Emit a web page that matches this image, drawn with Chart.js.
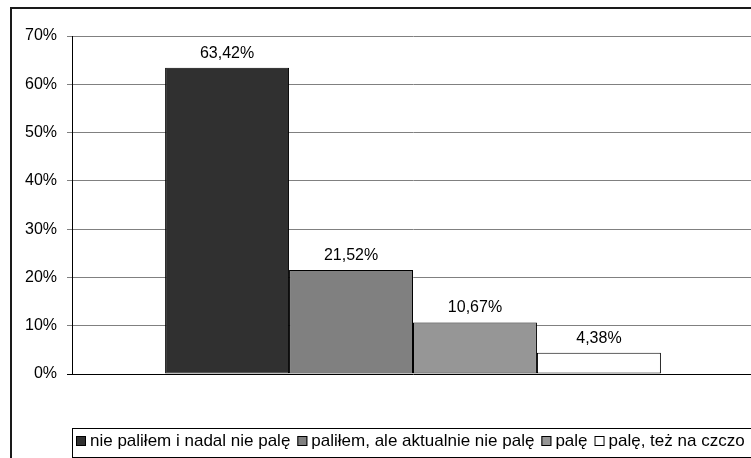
<!DOCTYPE html>
<html lang="pl">
<head>
<meta charset="utf-8">
<title>Palenie tytoniu</title>
<script src="https://cdn.jsdelivr.net/npm/chart.js@4/dist/chart.umd.min.js"></script>
<style>
  html, body { margin: 0; padding: 0; background: #fff; overflow: hidden; width: 751px; height: 458px; }
  canvas { display: block; }
</style>
</head>
<body>
<canvas id="c" width="770" height="470"></canvas>
<script>
// Single category, four answer groups drawn as adjacent bars
const categories = [''];
const seriesLabels = [
  'nie paliłem i nadal nie palę',
  'paliłem, ale aktualnie nie palę',
  'palę',
  'palę, też na czczo'
];
const seriesValues = [63.42, 21.52, 10.67, 4.38];
const seriesColors = ['#303030', '#808080', '#969696', '#ffffff'];
const yTickValues = [0, 10, 20, 30, 40, 50, 60, 70];

const FONT = '"Liberation Sans", Arial, sans-serif';

const fmtPct = v => v.toFixed(2).replace('.', ',') + '%';

// Outer frame of the chart object
const framePlugin = {
  id: 'frame',
  afterDraw(chart) {
    const ctx = chart.ctx;
    ctx.save();
    ctx.strokeStyle = '#1a1a1a';
    ctx.lineWidth = 2;
    ctx.strokeRect(11, 8, 900, 600);
    ctx.restore();
  }
};

// Value labels above each bar
const valueLabels = {
  id: 'valueLabels',
  afterDatasetsDraw(chart) {
    const ctx = chart.ctx;
    ctx.save();
    ctx.font = '16px ' + FONT;
    ctx.fillStyle = '#000';
    ctx.textAlign = 'center';
    ctx.textBaseline = 'alphabetic';
    chart.data.datasets.forEach((ds, i) => {
      chart.getDatasetMeta(i).data.forEach((bar, j) => {
        ctx.fillText(fmtPct(ds.data[j]), bar.x, bar.y - 10);
      });
    });
    ctx.restore();
  }
};

// Boxed legend row along the bottom
const boxedLegend = {
  id: 'boxedLegend',
  afterDraw(chart) {
    const ctx = chart.ctx;
    ctx.save();
    ctx.strokeStyle = '#000';
    ctx.lineWidth = 1;
    ctx.strokeRect(72.5, 428.5, 900, 29);
    ctx.font = '17px ' + FONT;
    ctx.textBaseline = 'middle';
    ctx.textAlign = 'left';
    let x = 76;
    const cy = 441;
    chart.data.datasets.forEach(ds => {
      const s = 10;
      ctx.fillStyle = ds.backgroundColor;
      ctx.fillRect(x, cy - 5, s, s);
      ctx.strokeStyle = '#000';
      ctx.strokeRect(x + 0.5, cy - 4.5, s - 1, s - 1);
      x += s + 4;
      ctx.fillStyle = '#000';
      ctx.fillText(ds.label, x, cy);
      x += ctx.measureText(ds.label).width + 7;
    });
    ctx.restore();
  }
};

new Chart(document.getElementById('c'), {
  type: 'bar',
  data: {
    labels: categories,
    datasets: seriesLabels.map((label, i) => ({
      label,
      data: [seriesValues[i]],
      backgroundColor: seriesColors[i],
      borderColor: '#000',
      borderWidth: 1,
      borderSkipped: false,
      barPercentage: 1,
      categoryPercentage: 0.727
    }))
  },
  options: {
    responsive: false,
    devicePixelRatio: 1,
    animation: false,
    layout: { padding: { top: 36, bottom: 96, left: 0, right: 16 } },
    plugins: {
      legend: { display: false },
      tooltip: { enabled: false },
      title: { display: false }
    },
    scales: {
      x: {
        display: false
      },
      y: {
        min: 0,
        max: 70,
        afterFit(scale) { scale.width = 72; },
        afterBuildTicks(scale) { scale.ticks = yTickValues.map(v => ({ value: v })); },
        ticks: {
          padding: 10,
          color: '#000',
          font: { family: FONT, size: 16 },
          callback: v => v + '%'
        },
        grid: {
          drawTicks: true,
          tickLength: 5,
          color: ctx => ctx.tick && ctx.tick.value === 0 ? '#000' : '#808080',
          tickColor: ctx => ctx.tick && ctx.tick.value === 0 ? '#000' : '#808080'
        },
        border: { color: '#000', width: 1 }
      }
    }
  },
  plugins: [framePlugin, valueLabels, boxedLegend]
});
</script>
</body>
</html>
